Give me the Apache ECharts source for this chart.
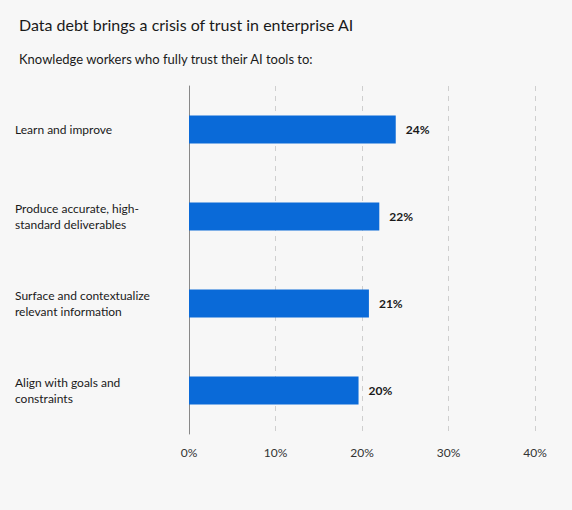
<!DOCTYPE html>
<html>
<head>
<meta charset="utf-8">
<script src="https://cdn.jsdelivr.net/npm/echarts@6/dist/echarts.min.js"></script>
<style>
  html, body { margin: 0; padding: 0; background: #f7f7f7; }
  #chart { width: 572px; height: 510px; }
</style>
</head>
<body>
<div id="chart"></div>
<script>
var categories = [
  'Learn and improve',
  'Produce accurate, high-\nstandard deliverables',
  'Surface and contextualize\nrelevant information',
  'Align with goals and\nconstraints'
];
var values = [23.9, 22.0, 20.8, 19.6];
var valueLabels = ['24%', '22%', '21%', '20%'];

var chart = echarts.init(document.getElementById('chart'), null, { renderer: 'svg' });

chart.setOption({
  animation: false,
  backgroundColor: '#f7f7f7',
  textStyle: { fontFamily: 'Lato' },
  title: [{
    text: 'Data debt brings a crisis of trust in enterprise AI',
    left: 14, top: 11,
    textStyle: { fontSize: 16, fontWeight: 'normal', color: '#1a1a1a', fontFamily: 'Lato' }
  }, {
    text: 'Knowledge workers who fully trust their AI tools to:',
    left: 14, top: 47,
    textStyle: { fontSize: 13, fontWeight: 'normal', color: '#1a1a1a', fontFamily: 'Lato' }
  }],
  grid: { left: 189, right: 37, top: 86, bottom: 76, containLabel: false },
  xAxis: {
    type: 'value',
    min: 0, max: 40, interval: 10,
    axisLine: { show: false },
    axisTick: { show: false },
    axisLabel: { formatter: '{value}%', color: '#333', fontSize: 12, margin: 12 },
    splitLine: { show: true, lineStyle: { type: [5, 5], color: '#cfcfcf' } }
  },
  yAxis: {
    type: 'category',
    inverse: true,
    data: categories,
    axisLine: { show: true, lineStyle: { color: '#888' } },
    axisTick: { show: false },
    axisLabel: { align: 'left', margin: 174, color: '#1a1a1a', fontSize: 12, lineHeight: 16 }
  },
  series: [{
    type: 'bar',
    data: values,
    barWidth: 28,
    itemStyle: { color: '#0a6ad8' },
    label: {
      show: true, position: 'right', distance: 10,
      color: '#1a1a1a', fontSize: 12, fontWeight: 'bold',
      formatter: function (p) { return valueLabels[p.dataIndex]; }
    }
  }]
});
</script>
</body>
</html>
